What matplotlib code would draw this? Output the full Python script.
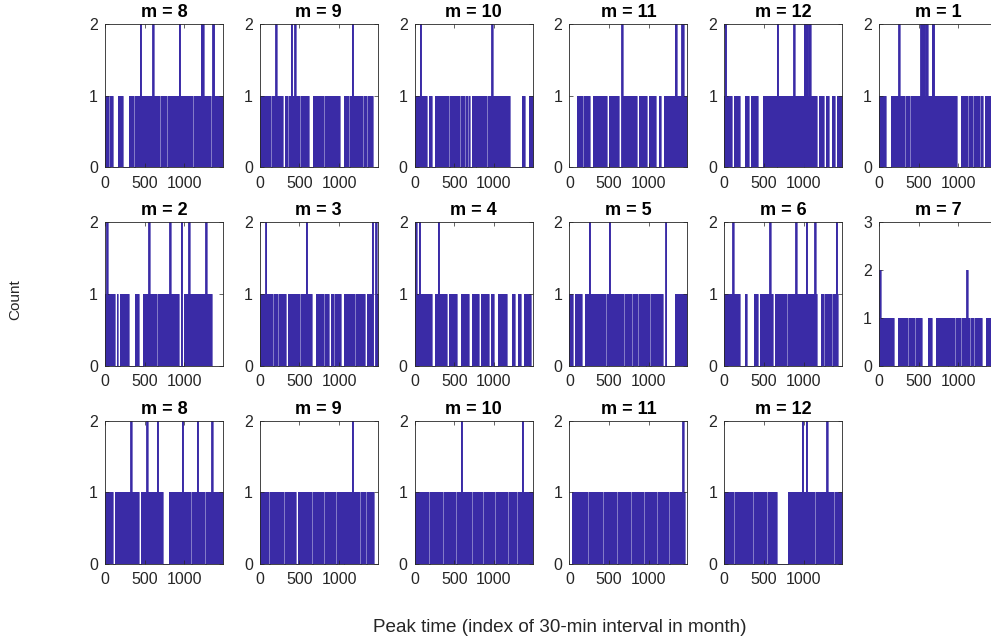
"""Peak-time histograms per month (17 consecutive months), 30-min interval index."""
import numpy as np
import matplotlib
matplotlib.use("Agg")
import matplotlib.pyplot as plt

plt.rcParams["font.family"] = ["Liberation Sans", "DejaVu Sans"]

BIN_WIDTH = 12          # 30-min intervals per histogram bin
X_MAX = 1488            # 31 days * 48 intervals
BAR_COLOR = "#3a2ba6"
AX_COLOR = "#262626"

# month number shown in each panel title (row by row)
months = [8, 9, 10, 11, 12, 1,
          2, 3, 4, 5, 6, 7,
          8, 9, 10, 11, 12]

# upper y limit of each panel
y_tops = [2, 2, 2, 2, 2, 2,
          2, 2, 2, 2, 2, 3,
          2, 2, 2, 2, 2]

# peak counts per 12-interval bin (124 bins), one string per panel
counts_text = [
    "1111011100 0000111110 0000011111 1011111211 1111111111 2111111101 1111101111 1111111121 1111111111 1110111111 1212111111 1012211111 1111",
    "1111111111 1101111211 1111001111 0112111211 1101111111 1100001111 1111111011 1111111111 1111000001 1111011211 1111111101 1110111110 0000",
    "1111112111 1110011100 0111111111 1111110111 1111111101 1110110100 1111011111 1111110111 1211111111 1111111111 0000000000 0001110000 1111",
    "0000000011 1111011111 1100011111 1111111111 0011111111 1100021111 1111111111 1001111111 1100111111 1000110001 1111111111 1221111122 1111",
    "1211111100 1111111000 0011110011 1111110000 0111111111 1111102111 1111111111 1112111111 1111222212 2111111000 1111100111 0001110001 1111",
    "1111111000 0001111111 1211111011 1110111111 1111222212 2111112211 1111111111 1111111111 1100001111 1111011110 1111110110 0111111111 1111",
    "1121111111 1001001111 1111100000 0011110000 1111112111 1111101111 1111111121 1111111100 2001111121 1111111111 1111112111 1100000000 0000",
    "1111112111 1111011110 1111111100 1111111111 1101111112 1111100001 1111111011 1110011101 1111100011 1111111111 0111111111 1001111120 0021",
    "1211121111 1111111100 0111121111 1111001111 1111100001 1111111000 1111111100 1111111100 1110000011 1111111000 0011110001 1100011111 1100",
    "1111001111 1110001111 1211111111 1111111101 1121111111 1111111011 1111110111 1101111111 0111101111 1111111100 0200000000 0111111111 1111",
    "1111111112 1111111000 0011000000 0111110011 1111111121 1001111111 1111110111 1111121111 1111112111 1111121100 0011101111 1110111121 0000",
    "1211111111 1111110000 1111111111 0111111101 1111100000 0011110000 1111111111 1101111111 0111110111 1121110111 0111111100 0011111111 1111",
    "1111111100 0111111111 1111111211 1111110011 1111211111 1111121111 1000000111 1111111111 1211111111 0111111211 1111101111 1121111111 1111",
    "1111111111 0111111111 1111101111 1111111100 1111111111 1111101111 1111111001 1111111111 0111111101 1111111211 1111101111 1101111111 0000",
    "1111111111 1111101111 1111111111 0111111111 1111011112 1111111111 0111111111 1101111111 1111101111 1111111101 1111111101 1112111111 1111",
    "0001111111 1111111111 0111111111 1111101111 1111111111 0111111111 1111101111 1111111101 1111111111 1101111111 1111101111 1111111112 1100",
    "1111111111 0111111111 1111111111 0111111111 1111101111 1111100000 0000000111 1111111111 1121112111 1111101111 1111111121 1111101111 1111",
]


def to_counts(text: str) -> np.ndarray:
    return np.array([int(ch) for ch in text if ch.isdigit()])


fig, axes = plt.subplots(3, 6, figsize=(9.91, 6.43), dpi=100)
fig.subplots_adjust(left=105 / 991, right=997 / 991,
                    top=1 - 24 / 643, bottom=1 - 564 / 643,
                    wspace=0.312, hspace=0.385)
axes[2, 5].remove()

for ax, m, ytop, text in zip(axes.flat, months, y_tops, counts_text):
    counts = to_counts(text)
    edges = np.arange(len(counts) + 1) * BIN_WIDTH
    centers = edges[:-1] + BIN_WIDTH / 2
    nz = np.flatnonzero(counts)
    lo, hi = nz[0], nz[-1] + 1
    ax.stairs(counts[lo:hi], edges[lo:hi + 1], fill=True, color=BAR_COLOR, lw=0)
    ax.stairs(counts[lo:hi], edges[lo:hi + 1], color=BAR_COLOR, lw=0.45,
              clip_on=False)
    # taller bins get a visibly wider bar, like the edged histogram bars
    tall = counts >= 2
    ax.vlines(centers[tall], 0, counts[tall], color=BAR_COLOR, lw=1.3,
              clip_on=False)

    ax.set_xlim(0, X_MAX)
    ax.set_ylim(0, ytop)
    ax.set_xticks([0, 500, 1000])
    ax.set_yticks(range(ytop + 1))
    ax.tick_params(direction="in", top=True, right=True, length=3, width=0.5,
                   labelsize=11.5, colors=AX_COLOR)
    ax.tick_params(axis="x", pad=6)
    ax.tick_params(axis="y", pad=5)
    for sp in ax.spines.values():
        sp.set_color(AX_COLOR)
        sp.set_linewidth(0.6)
    ax.set_title(f"m = {m}", fontsize=13, fontweight="bold", pad=5)

fig.text(15 / 991, 1 - 300 / 643, "Count", rotation=90,
         ha="center", va="center", fontsize=11, color=AX_COLOR)
fig.text(560 / 991, 1 - 628 / 643, "Peak time (index of 30-min interval in month)",
         ha="center", va="center", fontsize=13.6, color=AX_COLOR)

fig.savefig("out.png", dpi=100)
plt.close(fig)
